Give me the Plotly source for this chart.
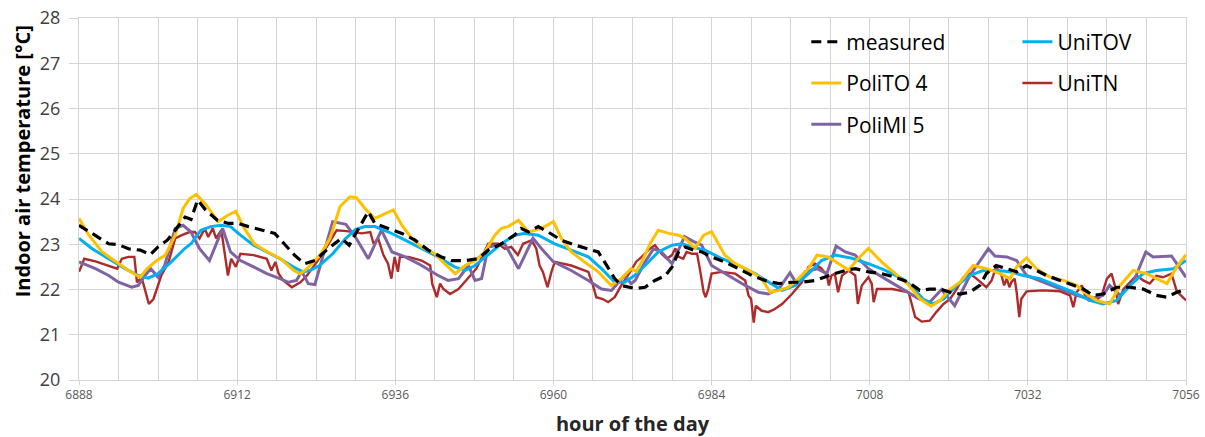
import plotly.graph_objects as go

# ---------------- data ----------------
hours_measured = [6888, 6890.5, 6892.5, 6894, 6895.5, 6897.3, 6898.8, 6900, 6901.4, 6902.6, 6904.1, 6905, 6906,
                  6907.2, 6909, 6910.7, 6912.2, 6913.7, 6915.7, 6917.7, 6919.2, 6920.7, 6922.2, 6923.8, 6925.8,
                  6927.8, 6929, 6930.4, 6931.9, 6932.9, 6934.9, 6937, 6939, 6941, 6943, 6944.5, 6946.6, 6948.6,
                  6950.1, 6952.1, 6954.1, 6955.1, 6956.2, 6957.7, 6959.2, 6961.2, 6963.3, 6965.3, 6966.8, 6967.8,
                  6969.3, 6970.3, 6972.4, 6973.9, 6975.4, 6977, 6978, 6979, 6980, 6981.3, 6982.5, 6984, 6986,
                  6988.1, 6990.1, 6992.1, 6994.2, 6996.2, 6997.7, 6999.7, 7001.7, 7002.7, 7004.3, 7005.8, 7007.8,
                  7009.8, 7011.9, 7013.9, 7015.6, 7017.1, 7018.7, 7020.2, 7021.7, 7023.2, 7024.7, 7025.7, 7027.2,
                  7028.8, 7030.3, 7031.8, 7033.3, 7034.8, 7036.9, 7038.9, 7040.4, 7041.9, 7043.4, 7045.5, 7047.5,
                  7049.5, 7051.5, 7053.1, 7054.6, 7056]
temp_measured = [23.42, 23.2, 23.01, 22.99, 22.9, 22.87, 22.77, 22.94, 23.09, 23.31, 23.6, 23.55, 23.98,
                 23.76, 23.53, 23.46, 23.46, 23.39, 23.31, 23.24, 23.0, 22.76, 22.57, 22.64, 22.9,
                 23.13, 22.98, 23.35, 23.72, 23.46, 23.35, 23.24, 23.09, 22.87, 22.72, 22.64, 22.64, 22.68,
                 22.87, 23.01, 23.2, 23.35, 23.27, 23.39, 23.27, 23.09, 22.98, 22.9, 22.83, 22.6,
                 22.24, 22.09, 22.02, 22.05, 22.2, 22.31, 22.5, 22.83, 22.94, 22.87, 22.83, 22.72, 22.61,
                 22.46, 22.31, 22.2, 22.13, 22.16, 22.16, 22.2, 22.31, 22.35, 22.42, 22.46, 22.39,
                 22.35, 22.27, 22.16, 21.98, 22.01, 22.01, 21.94, 21.9, 21.94, 22.09, 22.35, 22.53,
                 22.46, 22.39, 22.53, 22.42, 22.31, 22.2, 22.09, 22.01, 21.87, 21.9, 22.05, 22.05,
                 22.01, 21.87, 21.83, 21.94, 22.0]

hours_polito4 = [6888, 6889.5, 6891.5, 6894, 6895.5, 6897.3, 6898.3, 6899.8, 6901.1, 6902.6, 6903.8, 6904.8,
                 6905.8, 6907.3, 6909.1, 6910.6, 6911.8, 6913.1, 6914.6, 6916.6, 6918.6, 6920.6, 6921.6, 6922.6,
                 6924.6, 6926.1, 6927.6, 6929.1, 6930.1, 6931.4, 6932.9, 6933.9, 6935.7, 6937, 6938.5, 6940,
                 6942, 6943.5, 6945.1, 6946.6, 6948.1, 6949.6, 6951.1, 6952.1, 6953.1, 6954.7, 6956.2, 6958.2,
                 6960, 6961.2, 6962.7, 6964.7, 6966.8, 6968.8, 6970.3, 6971.8, 6972.6, 6973.4, 6974.7, 6975.9,
                 6977.5, 6979, 6980, 6981.5, 6982.8, 6984, 6986, 6987.6, 6989.6, 6991.6, 6992.9, 6994.2, 6995.7,
                 6997.2, 6998.7, 7000, 7001.7, 7003.3, 7004.8, 7006.3, 7007.8, 7009.8, 7011.9, 7013.9, 7015.6,
                 7017.3, 7018.7, 7020.2, 7021.7, 7023.7, 7025.7, 7027.8, 7029.3, 7030.3, 7031.8, 7033.3, 7035.3,
                 7037.4, 7039.4, 7040.9, 7042.4, 7044.4, 7046, 7048, 7050, 7051.5, 7053.1, 7054.6, 7056]
temp_polito4 = [23.57, 23.2, 22.83, 22.57, 22.42, 22.27, 22.46, 22.64, 22.76, 23.2, 23.79, 24.01,
                24.1, 23.87, 23.5, 23.64, 23.73, 23.35, 23.01, 22.83, 22.68, 22.42, 22.35, 22.46,
                22.76, 23.13, 23.83, 24.05, 24.03, 23.79, 23.57, 23.64, 23.76, 23.42, 23.13, 22.94,
                22.79, 22.57, 22.35, 22.53, 22.64, 22.83, 23.2, 23.35, 23.39, 23.53, 23.27, 23.35,
                23.5, 23.13, 22.83, 22.61, 22.39, 22.09, 22.24, 22.46, 22.4, 22.61, 23.02, 23.31,
                23.24, 23.2, 23.13, 22.91, 23.2, 23.28, 22.76, 22.57, 22.43, 22.24, 21.94, 21.98, 22.05,
                22.24, 22.46, 22.76, 22.72, 22.57, 22.43, 22.69, 22.91, 22.61, 22.35, 22.1, 21.8,
                21.63, 21.76, 22.01, 22.16, 22.53, 22.46, 22.35, 22.24, 22.5, 22.7, 22.46, 22.28,
                22.2, 22.09, 21.9, 21.76, 21.68, 22.09, 22.42, 22.35, 22.24, 22.13, 22.5, 22.77]

hours_polimi5 = [6888, 6890.5, 6892.5, 6894, 6896, 6897, 6898, 6898.9, 6900, 6901, 6902.6, 6903.8, 6905,
                 6906.3, 6907.8, 6909.8, 6911, 6912.5, 6914.5, 6916.5, 6918.5, 6919.8, 6921, 6921.8, 6922.8,
                 6923.8, 6926.5, 6928.5, 6930, 6931.9, 6933.9, 6935.5, 6937.5, 6940, 6942.5, 6944, 6945.6,
                 6947.1, 6948.1, 6949.1, 6950.1, 6952.6, 6954.7, 6956.9, 6958.2, 6960, 6962.7, 6965.3, 6967.3,
                 6968.8, 6970.8, 6971.8, 6972.4, 6973.9, 6975.2, 6976.4, 6978, 6979.9, 6981.3, 6982.5, 6984,
                 6986.6, 6989.1, 6991.1, 6992.6, 6994.2, 6995.9, 6996.9, 6998.2, 7000, 7001.5, 7002.9, 7004.3,
                 7005.8, 7007.8, 7010.3, 7012.9, 7015.4, 7017.1, 7018.9, 7020.9, 7023.2, 7026, 7027, 7028.8,
                 7030.3, 7031.8, 7034.3, 7036.9, 7039.4, 7041.4, 7043.4, 7044.4, 7046, 7048, 7049.9, 7051,
                 7053.8, 7056]
temp_polimi5 = [22.61, 22.46, 22.31, 22.16, 22.05, 22.09, 22.31, 22.46, 22.27, 22.53, 23.35, 23.42, 23.27,
                22.9, 22.64, 23.35, 22.83, 22.64, 22.5, 22.35, 22.24, 22.16, 22.2, 22.4, 22.13,
                22.11, 23.5, 23.44, 23.15, 22.68, 23.31, 22.83, 22.72, 22.53, 22.31, 22.2, 22.24,
                22.53, 22.2, 22.24, 22.94, 23.01, 22.46, 23.13, 22.9, 22.61, 22.42, 22.2, 22.01,
                21.98, 22.31, 22.13, 22.2, 22.61, 22.9, 22.83, 22.57, 23.17, 23.06, 22.98, 22.53,
                22.31, 22.09, 21.94, 21.9, 22.01, 22.37, 22.13, 22.39, 22.46, 22.35, 22.96, 22.83,
                22.76, 22.46, 22.24, 22.01, 21.8, 21.72, 22.0, 21.64, 22.31, 22.9, 22.74, 22.72,
                22.64, 22.31, 22.16, 22.01, 21.87, 21.79, 21.87, 22.09, 21.87, 22.16, 22.83, 22.72,
                22.74, 22.27]

hours_unitov = [6888, 6890, 6892.5, 6895, 6897, 6898.5, 6900, 6902, 6904, 6905, 6906.5, 6908, 6909.5, 6911,
                6912.5, 6914.5, 6916.5, 6918.5, 6920.5, 6922, 6923, 6924.5, 6926.5, 6928.5, 6930, 6931.4,
                6932.9, 6935, 6937.5, 6940, 6942.5, 6945, 6946.6, 6948.1, 6950.1, 6952.1, 6954.1, 6955.7,
                6957.7, 6960.2, 6962.7, 6965.3, 6967.3, 6969.3, 6970.8, 6972.3, 6973.9, 6975.9, 6978, 6979.5,
                6981, 6983, 6985.6, 6988.1, 6990.6, 6992.6, 6994.7, 6996.7, 6998.7, 7000.7, 7002.8, 7005.3,
                7007.8, 7010.3, 7012.9, 7014.3, 7016.1, 7017.6, 7019.2, 7021.2, 7023.2, 7025.2, 7027.3, 7029.3,
                7031.3, 7033.8, 7036.4, 7038.9, 7041.4, 7043.4, 7045.5, 7047.5, 7049.5, 7051.5, 7054.1, 7056]
temp_unitov = [23.13, 22.9, 22.68, 22.46, 22.31, 22.25, 22.35, 22.61, 22.9, 23.01, 23.31, 23.39, 23.42, 23.39,
               23.2, 22.98, 22.83, 22.68, 22.5, 22.39, 22.42, 22.53, 22.79, 23.13, 23.33, 23.39,
               23.39, 23.27, 23.09, 22.9, 22.72, 22.5, 22.42, 22.53, 22.76, 23.01, 23.2, 23.24,
               23.2, 23.01, 22.87, 22.72, 22.46, 22.16, 22.16, 22.31, 22.53, 22.83, 22.98, 23.01,
               22.94, 22.87, 22.68, 22.53, 22.35, 22.16, 21.98, 22.09, 22.35, 22.64, 22.76, 22.69,
               22.57, 22.43, 22.24, 22.08, 21.79, 21.68, 21.79, 22.09, 22.31, 22.42, 22.42, 22.39,
               22.31, 22.24, 22.09, 21.94, 21.76, 21.68, 21.76, 22.09, 22.35, 22.42, 22.46, 22.64]

hours_unitn = [6888, 6888.8, 6890.5, 6892.5, 6893.8, 6894.5, 6895.5, 6896.4, 6896.8, 6897.5, 6898.6, 6899.3,
               6900.5, 6901.6, 6902.6, 6903.6, 6904.8, 6905.6, 6906.3, 6907.1, 6907.6, 6908.3, 6908.8, 6909.6,
               6910.1, 6910.6, 6911.1, 6911.8, 6912.5, 6914.5, 6916.5, 6917.2, 6917.8, 6918.3, 6919, 6920.3,
               6921.6, 6922.6, 6924.1, 6925.6, 6927.1, 6928.6, 6930.9, 6932.2, 6932.7, 6933.4, 6934.2, 6934.9,
               6935.4, 6935.9, 6936.4, 6936.7, 6938, 6940, 6941.3, 6941.6, 6942.3, 6942.8, 6943.3, 6944.3,
               6945.6, 6947.1, 6948.3, 6949.3, 6950.1, 6951.6, 6952.6, 6953.6, 6954.6, 6955.4, 6956.7, 6957.4,
               6957.9, 6958.4, 6959.1, 6959.7, 6960.2, 6962.7, 6965.3, 6966, 6966.5, 6967.5, 6968.3, 6969.3,
               6970.3, 6971.3, 6972.6, 6973.4, 6974.4, 6975.4, 6976.4, 6977.2, 6978, 6978.5, 6979, 6979.7,
               6980.2, 6981, 6981.8, 6982.3, 6982.8, 6983.1, 6983.5, 6984, 6985.6, 6987.6, 6989.1, 6989.6,
               6990, 6990.4, 6990.7, 6991.6, 6992.6, 6993.6, 6994.7, 6996.2, 6997.7, 6998.7, 6999.7, 7000.7,
               7001.5, 7001.8, 7002.2, 7002.7, 7003.2, 7003.8, 7004.8, 7005.8, 7006.2, 7006.8, 7007.8, 7008.3,
               7008.6, 7009.1, 7011.4, 7013.9, 7014.4, 7014.9, 7015.9, 7017.1, 7018.1, 7019.2, 7020.2, 7021.2,
               7022.2, 7023.2, 7024.2, 7025, 7025.7, 7026.5, 7027.2, 7028, 7028.4, 7028.8, 7029.2, 7029.5,
               7030, 7030.3, 7030.7, 7031, 7031.8, 7034.3, 7036.9, 7038.4, 7038.9, 7039.4, 7040.2, 7040.7,
               7041.2, 7042.4, 7043.2, 7044, 7044.7, 7045.2, 7045.7, 7046.5, 7047.5, 7048.5, 7049.5, 7050.5,
               7051.5, 7052.5, 7053.8, 7054.6, 7056]
temp_unitn = [22.39, 22.68, 22.62, 22.53, 22.46, 22.68, 22.72, 22.72, 22.16, 22.27, 21.68, 21.79,
              22.31, 22.61, 23.13, 23.2, 23.27, 23.27, 23.13, 23.35, 23.16, 23.35, 23.13, 23.31,
              22.83, 22.31, 22.68, 22.5, 22.79, 22.76, 22.68, 22.42, 22.61, 22.35, 22.2, 22.05,
              22.16, 22.31, 22.61, 22.94, 23.31, 23.29, 23.24, 23.27, 23.01, 23.13, 22.76, 22.57,
              22.24, 22.72, 22.39, 22.72, 22.72, 22.64, 22.53, 22.13, 21.83, 22.13, 22.01, 21.9,
              22.01, 22.27, 22.46, 22.76, 23.01, 23.01, 22.9, 22.94, 22.76, 23.01, 23.09, 22.9,
              22.53, 22.39, 22.05, 22.39, 22.61, 22.53, 22.39, 22.09, 21.83, 21.79, 21.72, 21.83,
              22.09, 22.31, 22.62, 22.72, 22.87, 22.98, 22.79, 22.68, 22.76, 22.91, 22.72, 22.68,
              22.83, 22.79, 22.79, 22.39, 21.94, 21.83, 22.01, 22.35, 22.39, 22.35, 22.2, 21.87,
              21.79, 21.27, 21.64, 21.53, 21.5, 21.57, 21.68, 21.9, 22.16, 22.5, 22.57, 22.46,
              22.31, 22.09, 22.31, 22.35, 21.94, 22.31, 22.42, 22.31, 21.68, 22.09, 22.27, 22.13,
              21.72, 22.01, 22.01, 21.94, 21.68, 21.39, 21.29, 21.31, 21.5, 21.68, 21.79, 22.01,
              22.27, 22.35, 22.24, 22.13, 22.05, 22.2, 22.5, 22.31, 22.09, 22.24, 22.05, 22.16,
              22.24, 21.94, 21.39, 21.79, 21.96, 21.98, 21.96, 21.87, 21.61, 21.94, 22.09, 21.87,
              21.76, 21.76, 21.87, 22.24, 22.35, 22.09, 21.68, 22.01, 22.16, 22.31, 22.2, 22.13,
              22.3, 22.27, 22.35, 21.96, 21.76]

x_tick_values = [6888, 6912, 6936, 6960, 6984, 7008, 7032, 7056]
y_tick_values = [20, 21, 22, 23, 24, 25, 26, 27, 28]

# ---------------- figure ----------------
GRID = "#D4D4D4"
FONT = "Open Sans"

fig = go.Figure()

series = [
    ("measured", hours_measured, temp_measured, "#000000", "10px,6px", 3.2, "legend"),
    ("PoliTO 4", hours_polito4, temp_polito4, "#FFC000", "solid", 3, "legend"),
    ("PoliMI 5", hours_polimi5, temp_polimi5, "#8064A2", "solid", 3, "legend"),
    ("UniTOV", hours_unitov, temp_unitov, "#00B0F0", "solid", 3, "legend2"),
    ("UniTN", hours_unitn, temp_unitn, "#AE2B2B", "solid", 2.4, "legend2"),
]
draw_order = ["UniTN", "PoliMI 5", "UniTOV", "PoliTO 4", "measured"]
legend_rank = {"measured": 1, "PoliTO 4": 2, "PoliMI 5": 3, "UniTOV": 1, "UniTN": 2}
for name in draw_order:
    s = next(t for t in series if t[0] == name)
    fig.add_trace(go.Scatter(
        x=s[1], y=s[2], name=s[0], mode="lines",
        line=dict(color=s[3], dash=s[4], width=s[5]),
        legend=s[6], legendgroup=s[0], legendrank=legend_rank[name],
    ))

legend_common = dict(
    yanchor="top", xanchor="left", bgcolor="rgba(0,0,0,0)",
    font=dict(family=FONT, size=21, color="#000000"),
    traceorder="grouped", tracegroupgap=11, itemwidth=30,
)
fig.update_layout(
    width=1205, height=437,
    margin=dict(l=79, r=19, t=18, b=57, autoexpand=False),
    paper_bgcolor="white", plot_bgcolor="white",
    font=dict(family=FONT, color="#404040"),
    showlegend=True,
    legend=dict(x=0.657, y=0.99, **legend_common),
    legend2=dict(x=0.8477, y=0.99, **legend_common),
)
fig.update_xaxes(
    range=[6888, 7056], tickvals=x_tick_values, ticktext=[str(v) for v in x_tick_values],
    showgrid=True, gridcolor=GRID, gridwidth=1, automargin=False,
    minor=dict(dtick=6, tick0=6888, showgrid=True, gridcolor=GRID, gridwidth=1),
    showline=True, linecolor=GRID, linewidth=1, mirror=True,
    ticks="outside", ticklen=4, tickcolor=GRID,
    tickfont=dict(family=FONT, size=12, color="#595959"),
    zeroline=False,
    title=dict(text="<b>hour of the day</b>", font=dict(family=FONT, size=20, color="#262626"), standoff=14),
)
fig.update_yaxes(
    range=[20, 28], tickvals=y_tick_values,
    showgrid=True, gridcolor=GRID, gridwidth=1, automargin=False,
    showline=True, linecolor=GRID, linewidth=1, mirror=True,
    ticks="outside", ticklen=9, tickcolor=GRID, ticklabelstandoff=5,
    tickfont=dict(family=FONT, size=18, color="#404040"),
    zeroline=False,
)
fig.add_annotation(
    text="<b>Indoor air temperature [°C]</b>", textangle=-90,
    xref="paper", yref="paper", x=-0.0515, y=0.604, xanchor="center", yanchor="middle",
    showarrow=False, font=dict(family=FONT, size=20, color="#000000"),
)

fig.write_html(
    "out.html",
    config={"displayModeBar": False},
    post_script="document.body.style.margin='0';document.body.style.padding='0';",
)
